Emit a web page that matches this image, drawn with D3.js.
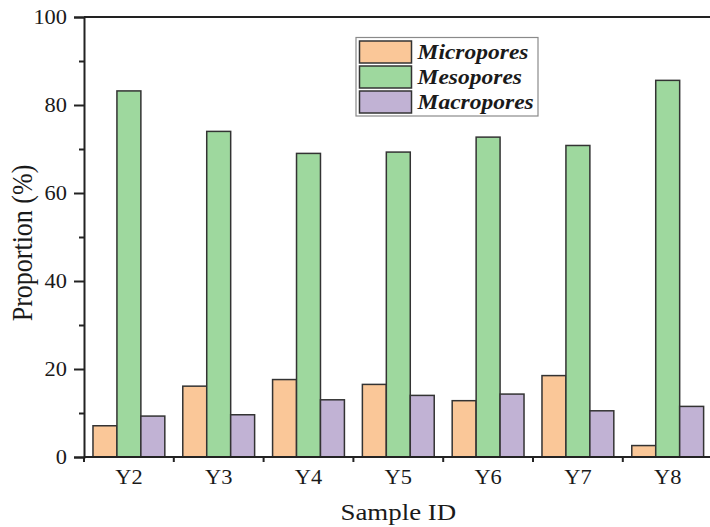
<!DOCTYPE html>
<html>
<head>
<meta charset="utf-8">
<script src="https://cdn.jsdelivr.net/npm/d3@7"></script>
<style>
  html, body { margin: 0; padding: 0; background: #fff; }
  svg { display: block; }
</style>
</head>
<body>
<svg id="chart" width="710" height="527"></svg>
<script>
// Pore-size distribution per sample (%)
const categories = ["Y2", "Y3", "Y4", "Y5", "Y6", "Y7", "Y8"];
const seriesNames = ["Micropores", "Mesopores", "Macropores"];
const micropores = [7.1, 16.1, 17.6, 16.5, 12.8, 18.5, 2.6];
const mesopores  = [83.2, 74.0, 69.0, 69.3, 72.7, 70.8, 85.6];
const macropores = [9.3, 9.6, 13.0, 14.0, 14.3, 10.5, 11.5];
const seriesColors = ["#FAC798", "#9ED89E", "#C1B2D4"];
const yMajorTicks = [0, 20, 40, 60, 80, 100];
const yMinorTicks = [10, 30, 50, 70, 90];

const seriesValues = [micropores, mesopores, macropores];
const rows = categories.map((c, i) => ({
  cat: c,
  vals: seriesNames.map((s, j) => ({ key: s, value: seriesValues[j][i] }))
}));

const serif = '"Liberation Serif", "Times New Roman", Times, serif';
const textColor = "#1a1a1a";
const svg = d3.select("#chart");
const plotLeft = 84, plotTop = 17, plotBottom = 457, step = 89.8;
const rightEdge = 710;
const sx = 1.12; // glyphs are set slightly wide

const x0 = d3.scaleBand().domain(categories).range([plotLeft, plotLeft + step * categories.length]).padding(0);
const x1 = d3.scaleBand().domain(seriesNames).range([x0.bandwidth() * 0.1, x0.bandwidth() * 0.9]);
const y = d3.scaleLinear().domain([0, 100]).range([plotBottom, plotTop]);
const color = d3.scaleOrdinal().domain(seriesNames).range(seriesColors);

// bars
const groups = svg.append("g").selectAll("g").data(rows).join("g")
  .attr("transform", d => `translate(${x0(d.cat)},0)`);
groups.selectAll("rect").data(d => d.vals).join("rect")
  .attr("x", d => x1(d.key))
  .attr("y", d => y(d.value))
  .attr("width", x1.bandwidth())
  .attr("height", d => y(0) - y(d.value))
  .attr("fill", d => color(d.key))
  .attr("stroke", "#333")
  .attr("stroke-width", 1.5);

// frame: top line and axes
const axisColor = "#222";
svg.append("line").attr("x1", plotLeft).attr("x2", rightEdge).attr("y1", plotTop).attr("y2", plotTop)
  .attr("stroke", axisColor).attr("stroke-width", 2);

// y axis: major ticks with labels, minor ticks without
const yAxis = svg.append("g").attr("transform", `translate(${plotLeft},0)`)
  .call(d3.axisLeft(y).tickValues(yMajorTicks).tickSize(10).tickFormat(""));
yAxis.select(".domain").attr("stroke", axisColor).attr("stroke-width", 2);
yAxis.selectAll(".tick line").attr("stroke", axisColor).attr("stroke-width", 2);
const yMinor = svg.append("g").attr("transform", `translate(${plotLeft},0)`)
  .call(d3.axisLeft(y).tickValues(yMinorTicks).tickSize(5).tickFormat(""));
yMinor.select(".domain").remove();
yMinor.selectAll(".tick line").attr("stroke", axisColor).attr("stroke-width", 2);

svg.append("g").selectAll("text").data(yMajorTicks).join("text")
  .attr("transform", d => `translate(67,${y(d)}) scale(${sx},1)`)
  .attr("text-anchor", "end")
  .attr("dy", "0.35em")
  .style("font-family", serif)
  .style("font-size", "20px")
  .attr("fill", textColor)
  .text(d => d);

// x axis: line, boundary ticks, centred labels
svg.append("line").attr("x1", plotLeft).attr("x2", rightEdge).attr("y1", plotBottom).attr("y2", plotBottom)
  .attr("stroke", axisColor).attr("stroke-width", 2);
svg.append("g").selectAll("line").data(categories).join("line")
  .attr("x1", d => x0(d)).attr("x2", d => x0(d))
  .attr("y1", plotBottom).attr("y2", plotBottom + 5)
  .attr("stroke", axisColor).attr("stroke-width", 2);
const xAxis = svg.append("g").attr("transform", `translate(0,${plotBottom})`)
  .call(d3.axisBottom(x0).tickSize(0).tickPadding(0));
xAxis.select(".domain").remove();
xAxis.selectAll(".tick text")
  .attr("y", 0).attr("dy", 0)
  .attr("transform", `translate(0,26.5) scale(${sx},1)`)
  .style("font-family", serif)
  .style("font-size", "20px")
  .attr("fill", textColor);

// axis titles
svg.append("text")
  .attr("transform", `translate(${(plotLeft + plotLeft + step * categories.length) / 2},519.5) scale(${sx},1)`)
  .attr("text-anchor", "middle")
  .style("font-family", serif)
  .style("font-size", "24px")
  .attr("fill", textColor)
  .text("Sample ID");
svg.append("text")
  .attr("transform", `translate(31.5,243) scale(${sx},1) rotate(-90)`)
  .attr("text-anchor", "middle")
  .style("font-family", serif)
  .style("font-size", "26px")
  .attr("fill", textColor)
  .text("Proportion (%)");

// legend
const legend = svg.append("g");
legend.append("rect")
  .attr("x", 356).attr("y", 37.5).attr("width", 182).attr("height", 78.5)
  .attr("fill", "#fff").attr("stroke", "#8a8a8a").attr("stroke-width", 1.2);
const items = legend.selectAll("g.item").data(seriesNames).join("g").attr("class", "item")
  .attr("transform", (d, i) => `translate(0,${i * 25})`);
items.append("rect")
  .attr("x", 359.5).attr("y", 41).attr("width", 52).attr("height", 22)
  .attr("fill", d => color(d)).attr("stroke", "#333").attr("stroke-width", 1.5);
items.append("text")
  .attr("transform", `translate(417.5,59.3) scale(${sx},1)`)
  .style("font-family", serif)
  .style("font-size", "21px")
  .style("font-weight", "bold")
  .style("font-style", "italic")
  .attr("fill", textColor)
  .text(d => d);
</script>
</body>
</html>
